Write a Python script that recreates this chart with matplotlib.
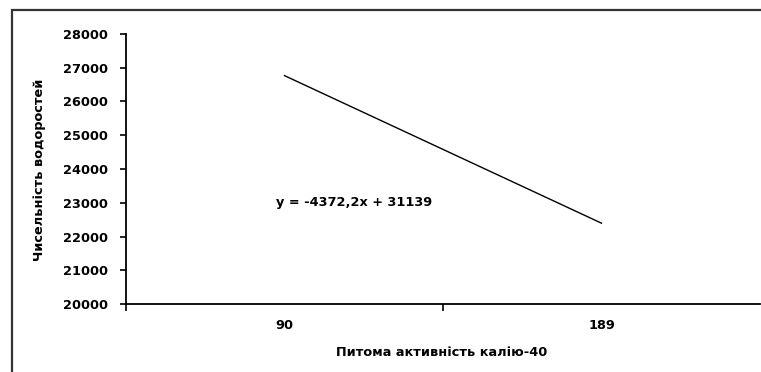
import matplotlib
matplotlib.use("Agg")
import matplotlib.pyplot as plt
from matplotlib.patches import Rectangle

# Specific activity of K-40 (categories) and algae counts from the linear trend
categories = ["90", "189"]
algae_count = [26766.8, 22394.6]
equation = "y = -4372,2x + 31139"
x_label = "Питома активність калію-40"
y_label = "Чисельність водоростей"
y_ticks = list(range(20000, 28001, 1000))

plt.rcParams["font.family"] = ["DejaVu Sans"]
plt.rcParams["font.weight"] = "bold"

W, H = 761, 372
fig = plt.figure(figsize=(W / 100, H / 100), dpi=100)

# outer chart frame (cut at the right and bottom edges)
frame = Rectangle((12 / W, -0.1), 1.2, 1 - 10 / H + 0.1, transform=fig.transFigure,
                  fill=False, edgecolor="#333333", linewidth=1.6, clip_on=False)
fig.patches.append(frame)

left, right = 126 / W, 760 / W
bottom, top = 1 - 304 / H, 1 - 34 / H
ax = fig.add_axes([left, bottom, right - left, top - bottom])

xpos = list(range(1, len(categories) + 1))
ax.plot(xpos, algae_count, color="black", linewidth=1.0)

ax.set_xlim(0.5, len(categories) + 0.5)
ax.set_ylim(y_ticks[0], y_ticks[-1])

for s in ["top", "right"]:
    ax.spines[s].set_visible(False)
for s in ["left", "bottom"]:
    ax.spines[s].set_linewidth(1.3)
    ax.spines[s].set_color("black")

fs = 9.3
ax.set_yticks(y_ticks)
ax.set_yticklabels([str(v) for v in y_ticks])
ax.tick_params(axis="y", direction="out", length=4, width=1.2, pad=9, labelsize=fs)

# category boundaries carry the tick marks, labels sit in the middle
ax.set_xticks([0.5 + i for i in range(len(categories))])
ax.set_xticklabels([])
ax.set_xticks(xpos, minor=True)
ax.set_xticklabels(categories, minor=True)
ax.tick_params(axis="x", which="major", direction="out", length=5, width=1.2)
ax.tick_params(axis="x", which="minor", length=0, pad=11, labelsize=fs)

ax.text(276 / W, 1 - 203 / H, equation, transform=fig.transFigure,
        fontsize=fs, ha="left", va="center")

fig.text(442 / W, 1 - 352 / H, x_label, fontsize=fs, ha="center", va="center")
fig.text(40 / W, 1 - 170 / H, y_label, fontsize=fs, ha="center", va="center",
         rotation=90)

fig.savefig("out.png", dpi=100)
